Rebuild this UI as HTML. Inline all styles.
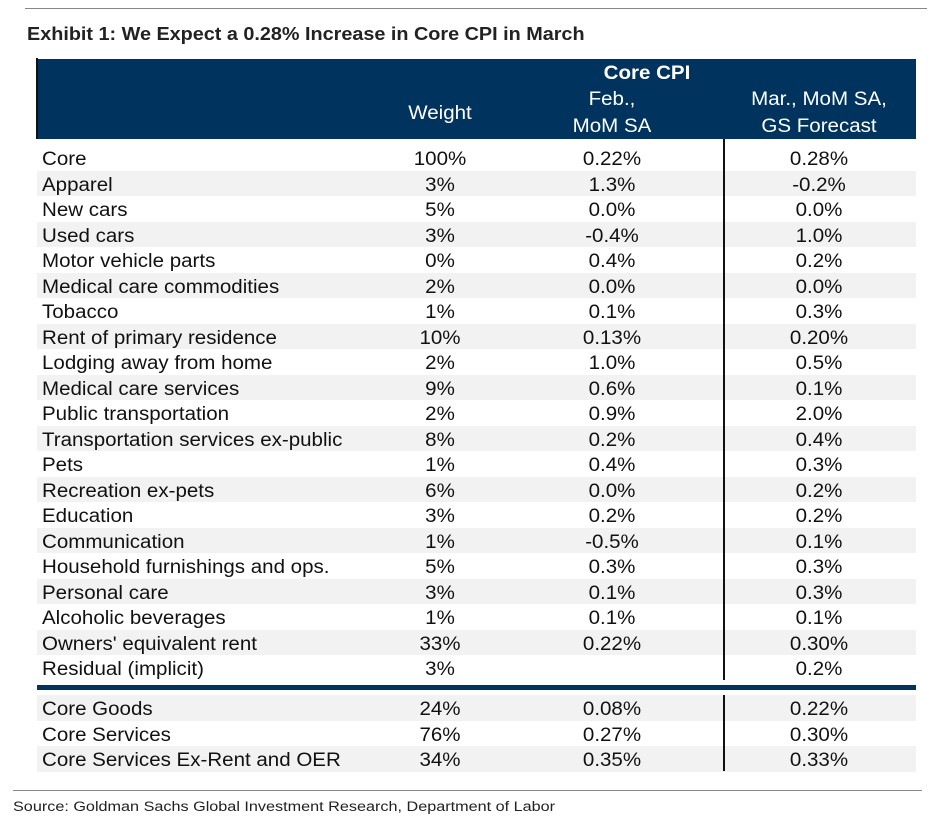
<!DOCTYPE html>
<html><head><style>
body{margin:0;width:945px;height:827px;background:#fff;position:relative;font-family:"Liberation Sans",Arial,sans-serif;overflow:hidden}
.a{position:absolute}
.t{position:absolute;font-size:19px;color:#111;line-height:20px;white-space:nowrap;transform:scaleX(1.08);transform-origin:0 0}
.c{transform:translateX(-50%) scaleX(1.08);transform-origin:50% 0}
.h{color:#fff}
</style></head><body>
<div class="a" style="left:25px;top:8px;width:902px;height:1px;background:#888"></div>
<div class="t" style="left:27px;top:24px;font-weight:bold;font-size:18px;color:#222;transform:scaleX(1.1)">Exhibit 1: We Expect a 0.28% Increase in Core CPI in March</div>
<div class="a" style="left:37px;top:59px;width:879px;height:80px;background:#00345f"></div>
<div class="a" style="left:36px;top:58px;width:2px;height:81px;background:#111"></div>
<div class="t h c" style="left:647px;top:64px;font-weight:bold">Core CPI</div>
<div class="t h c" style="left:440px;top:104px">Weight</div>
<div class="t h c" style="left:612px;top:90px">Feb.,</div>
<div class="t h c" style="left:612px;top:117px">MoM SA</div>
<div class="t h c" style="left:819px;top:90px">Mar., MoM SA,</div>
<div class="t h c" style="left:819px;top:117px">GS Forecast</div>
<div id="rows"></div>
<div class="a" style="left:37px;top:685px;width:879px;height:5px;background:#00345f"></div>
<div class="a" style="left:723px;top:139px;width:2px;height:541px;background:#111"></div>
<div class="a" style="left:723px;top:695px;width:2px;height:76px;background:#111"></div>
<div class="a" style="left:13px;top:790px;width:909px;height:1px;background:#888"></div>
<div class="t" style="left:13px;top:797px;font-size:13.5px;color:#222;transform:scaleX(1.2)">Source: Goldman Sachs Global Investment Research, Department of Labor</div>
<script>
var d=[["Core","100%","0.22%","0.28%"],["Apparel","3%","1.3%","-0.2%"],["New cars","5%","0.0%","0.0%"],["Used cars","3%","-0.4%","1.0%"],["Motor vehicle parts","0%","0.4%","0.2%"],["Medical care commodities","2%","0.0%","0.0%"],["Tobacco","1%","0.1%","0.3%"],["Rent of primary residence","10%","0.13%","0.20%"],["Lodging away from home","2%","1.0%","0.5%"],["Medical care services","9%","0.6%","0.1%"],["Public transportation","2%","0.9%","2.0%"],["Transportation services ex-public","8%","0.2%","0.4%"],["Pets","1%","0.4%","0.3%"],["Recreation ex-pets","6%","0.0%","0.2%"],["Education","3%","0.2%","0.2%"],["Communication","1%","-0.5%","0.1%"],["Household furnishings and ops.","5%","0.3%","0.3%"],["Personal care","3%","0.1%","0.3%"],["Alcoholic beverages","1%","0.1%","0.1%"],["Owners' equivalent rent","33%","0.22%","0.30%"],["Residual (implicit)","3%","","0.2%"]];
var b=[["Core Goods","24%","0.08%","0.22%"],["Core Services","76%","0.27%","0.30%"],["Core Services Ex-Rent and OER","34%","0.35%","0.33%"]];
var h="";
function row(r,top,sh){var s="";if(sh)s+='<div class="a" style="left:37px;top:'+top+'px;width:879px;height:25.5px;background:#f2f2f2"></div>';
s+='<div class="t" style="left:42px;top:'+(top+5)+'px">'+r[0]+'</div>';
s+='<div class="t c" style="left:440px;top:'+(top+5)+'px">'+r[1]+'</div>';
s+='<div class="t c" style="left:612px;top:'+(top+5)+'px">'+r[2]+'</div>';
s+='<div class="t c" style="left:819px;top:'+(top+5)+'px">'+r[3]+'</div>';return s;}
d.forEach(function(r,i){h+=row(r,145+i*25.5,i%2==1)});
b.forEach(function(r,i){h+=row(r,695+i*25.5,i!=1)});
document.getElementById("rows").innerHTML=h;
</script>
</body></html>
